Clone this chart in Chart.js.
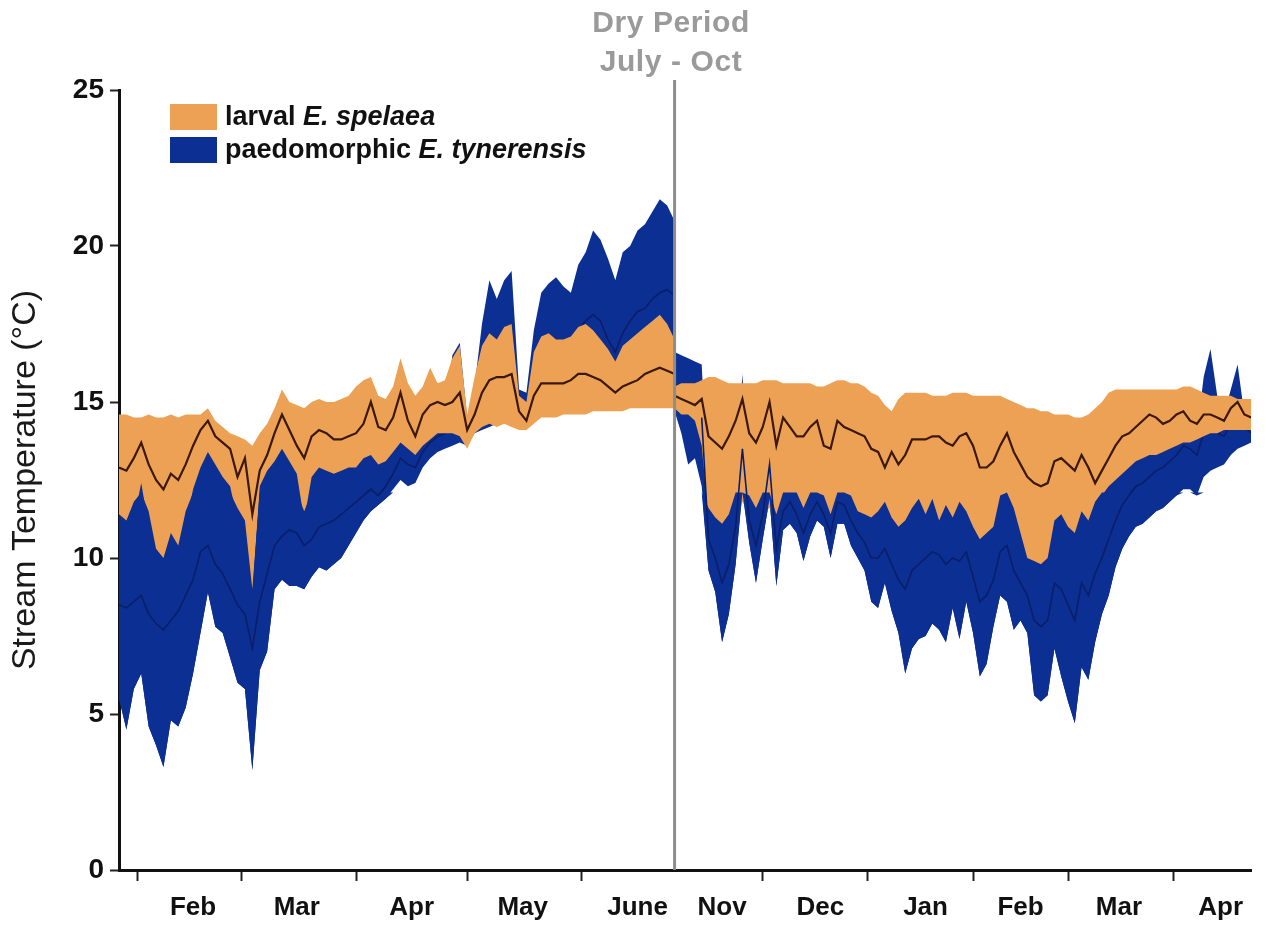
<!DOCTYPE html>
<html>
<head>
<meta charset="utf-8">
<script src="https://cdn.jsdelivr.net/npm/chart.js@4/dist/chart.umd.min.js"></script>
<style>
  html, body { margin: 0; padding: 0; background: #fff; }
  #wrap { position: relative; width: 1266px; height: 930px; font-family: "Liberation Sans", Arial, sans-serif; }
  #wrap canvas { position: absolute; left: 0; top: 0; }
  .dry { position: absolute; left: 561px; top: 2px; width: 220px; text-align: center; color: #9a9a9a;
         font-weight: bold; font-size: 30px; letter-spacing: 0.6px; line-height: 39px; }
  .legend { position: absolute; left: 170px; top: 100px; font-weight: bold; font-size: 27px; color: #111; }
  .legend .row { height: 33px; display: flex; align-items: center; white-space: nowrap; }
  .legend .sw { display: inline-block; width: 47px; height: 26px; margin-right: 8px; }
</style>
</head>
<body>
<div id="wrap">
  <canvas id="c" width="1266" height="930"></canvas>
  <div class="dry">Dry Period<br>July - Oct</div>
  <div class="legend">
    <div class="row"><span class="sw" style="background:#eda155"></span>larval&nbsp;<i>E. spelaea</i></div>
    <div class="row"><span class="sw" style="background:#0b2f93"></span>paedomorphic&nbsp;<i>E. tynerensis</i></div>
  </div>
</div>
<script>
// ---- Spring season (late January to late June), day of year, every 2 days ----
const springDays = [27,29,31,33,35,37,39,41,43,45,47,49,51,53,55,57,59,61,63,65,67,69,71,73,75,77,79,81,83,85,87,89,91,93,95,97,99,101,103,105,107,109,111,113,115,117,119,121,123,125,127,129,131,133,135,137,139,141,143,145,147,149,151,153,155,157,159,161,163,165,167,169,171,173,175,177];

// larval E. spelaea streams (°C): daily maximum, mean, minimum
const springSpelaeaMax = [14.6,14.6,14.5,14.5,14.6,14.5,14.5,14.6,14.5,14.6,14.6,14.6,14.8,14.4,14.2,14.0,13.9,13.8,13.6,14.0,14.3,14.8,15.4,15.0,14.9,14.8,15.0,15.1,15.0,15.0,15.1,15.2,15.5,15.7,15.8,15.2,15.1,15.5,16.4,15.6,15.2,15.5,16.1,15.6,15.7,16.4,16.8,14.6,15.8,16.8,17.2,17.0,17.4,17.5,15.2,15.0,16.6,17.1,17.2,17.0,17.0,17.1,17.4,17.5,17.3,17.0,16.7,16.3,16.8,17.0,17.2,17.4,17.6,17.8,17.5,17.0];
const springSpelaeaMean = [12.9,12.8,13.2,13.7,13.0,12.5,12.2,12.7,12.5,13.0,13.6,14.1,14.4,13.9,13.7,13.5,12.6,13.2,11.4,12.8,13.3,14.0,14.6,14.1,13.6,13.2,13.9,14.1,14.0,13.8,13.8,13.9,14.0,14.3,15.0,14.2,14.1,14.5,15.3,14.4,13.9,14.6,14.9,15.0,14.9,15.0,15.3,14.1,14.6,15.3,15.7,15.8,15.8,15.9,14.7,14.4,15.2,15.6,15.6,15.6,15.6,15.7,15.9,15.9,15.8,15.7,15.5,15.3,15.5,15.6,15.7,15.9,16.0,16.1,16.0,15.9];
const springSpelaeaMin = [11.0,10.8,11.2,12.4,11.0,10.0,9.7,10.4,10.2,11.0,12.2,12.9,13.4,13.0,12.6,12.3,11.2,10.5,8.9,12.3,12.8,13.1,13.5,13.1,12.7,11.2,12.6,12.9,12.8,12.7,12.8,12.9,12.9,13.2,13.3,13.0,13.1,13.4,13.7,13.5,13.3,13.6,13.8,14.0,14.0,14.0,13.9,13.5,14.0,14.2,14.3,14.2,14.3,14.2,14.1,14.1,14.3,14.5,14.5,14.5,14.6,14.6,14.6,14.6,14.7,14.7,14.7,14.7,14.7,14.8,14.8,14.8,14.8,14.8,14.8,14.8];

// paedomorphic E. tynerensis streams (°C): daily maximum, mean, minimum
const springTynerensisMax = [11.4,11.2,11.8,12.6,11.5,10.3,10.0,10.8,10.4,11.5,12.4,13.2,13.7,13.3,12.9,12.6,11.6,11.2,9.0,12.6,13.1,13.4,13.8,13.4,13.0,11.5,13.0,13.3,13.2,13.1,13.2,13.3,13.3,13.7,13.8,13.4,13.5,13.8,14.5,14.0,13.6,14.0,14.3,14.4,14.5,16.5,16.9,14.5,15.5,17.5,18.9,18.3,18.9,19.2,15.4,15.3,17.3,18.5,18.8,19.0,18.7,18.5,19.4,19.8,20.5,20.2,19.6,18.9,19.8,20.0,20.5,20.7,21.1,21.5,21.3,20.8];
const springTynerensisMean = [8.5,8.4,8.6,8.8,8.2,7.9,7.7,8.0,8.3,8.8,9.3,10.2,10.4,9.8,9.5,9.0,8.5,8.2,7.1,8.6,9.5,10.4,10.7,10.9,10.8,10.4,10.6,11.0,11.1,11.2,11.4,11.6,11.8,12.0,12.2,12.0,12.3,12.7,13.2,13.0,12.9,13.4,13.7,13.9,14.0,14.6,15.0,14.0,14.6,15.6,16.3,16.2,16.5,16.8,14.8,14.7,15.8,16.8,17.0,17.0,16.9,16.9,17.3,17.6,17.8,17.6,17.0,16.6,17.2,17.6,17.9,18.0,18.3,18.5,18.6,18.4];
const springTynerensisMin = [5.5,4.5,5.8,6.3,4.6,4.0,3.3,4.8,4.6,5.2,6.3,7.6,8.9,7.8,7.6,6.8,6.0,5.8,3.2,6.4,7.0,9.0,9.3,9.1,9.1,9.0,9.4,9.7,9.6,9.8,10.0,10.4,10.8,11.2,11.5,11.7,11.9,12.2,12.5,12.3,12.4,12.9,13.2,13.4,13.5,13.6,13.7,13.6,14.0,14.1,14.2,14.3,14.3,14.3,14.2,14.3,14.5,14.6,14.8,14.9,15.0,15.0,15.1,15.1,15.2,15.2,15.1,15.0,15.1,15.3,15.4,15.4,15.5,15.5,15.5,15.4];

// ---- Autumn to spring (November to late April), day count from 1 Jan, every 2 days ----
const autumnDays = [309,311,313,315,317,319,321,323,325,327,329,331,333,335,337,339,341,343,345,347,349,351,353,355,357,359,361,363,365,367,369,371,373,375,377,379,381,383,385,387,389,391,393,395,397,399,401,403,405,407,409,411,413,415,417,419,421,423,425,427,429,431,433,435,437,439,441,443,445,447,449,451,453,455,457,459,461,463,465,467,469,471,473,475,477,479];

const autumnSpelaeaMax = [15.5,15.6,15.6,15.6,15.7,15.8,15.8,15.7,15.6,15.6,15.6,15.6,15.6,15.7,15.7,15.7,15.6,15.6,15.6,15.6,15.6,15.5,15.5,15.6,15.7,15.7,15.6,15.6,15.5,15.3,15.2,14.9,14.7,15.1,15.3,15.3,15.3,15.3,15.2,15.2,15.2,15.3,15.3,15.3,15.2,15.2,15.2,15.2,15.2,15.1,15.0,14.9,14.8,14.8,14.7,14.7,14.6,14.6,14.6,14.5,14.5,14.6,14.8,15.0,15.3,15.4,15.4,15.4,15.4,15.4,15.4,15.4,15.4,15.4,15.4,15.5,15.5,15.4,15.3,15.2,15.2,15.2,15.2,15.1,15.1,15.1];
const autumnSpelaeaMean = [15.2,15.1,15.0,14.9,15.1,13.9,13.7,13.5,13.9,14.4,15.1,14.0,13.7,14.2,15.0,13.6,14.5,14.2,13.9,13.9,14.2,14.4,13.6,13.5,14.4,14.2,14.1,14.0,13.9,13.5,13.4,12.9,13.4,13.0,13.3,13.8,13.8,13.8,13.9,13.9,13.7,13.6,13.9,14.0,13.6,12.9,12.9,13.1,13.6,14.0,13.4,13.0,12.6,12.4,12.3,12.4,13.1,13.2,13.0,12.8,13.3,12.9,12.4,12.8,13.2,13.6,13.9,14.0,14.2,14.4,14.6,14.5,14.3,14.4,14.6,14.7,14.4,14.3,14.6,14.6,14.5,14.4,14.8,15.0,14.6,14.5];
const autumnSpelaeaMin = [14.8,14.6,14.6,14.4,13.6,11.2,11.0,10.8,10.8,11.0,11.8,11.4,11.2,11.4,11.6,11.2,11.3,11.4,11.5,11.5,11.7,12.0,11.8,11.2,11.8,11.8,11.5,11.3,11.3,10.9,11.1,11.4,10.9,10.6,10.8,11.2,11.4,11.0,11.4,10.8,11.2,10.9,11.3,11.0,10.8,10.5,10.5,10.6,11.2,11.5,11.0,10.4,9.8,9.8,9.8,9.9,10.6,10.8,10.6,10.6,10.8,10.8,11.5,12.0,12.3,12.5,12.7,12.9,13.1,13.2,13.3,13.3,13.4,13.5,13.6,13.7,13.7,13.8,13.9,14.0,14.0,14.1,14.1,14.1,14.1,14.1];

const autumnTynerensisMax = [16.6,16.5,16.4,16.3,16.2,11.6,11.3,11.1,11.4,12.5,15.9,12.0,11.6,12.5,15.0,11.4,12.4,12.8,12.2,11.6,12.4,12.8,12.0,11.4,12.6,12.6,12.0,11.5,11.4,11.3,11.5,11.8,11.3,11.0,11.2,11.6,11.9,11.4,11.9,11.2,11.7,11.3,11.8,11.5,11.0,10.6,10.8,11.0,12.0,12.6,11.6,10.8,10.0,9.9,9.8,10.0,11.2,11.4,11.0,10.8,11.5,11.2,11.8,12.2,12.5,12.8,13.0,13.2,13.4,13.5,13.8,13.9,13.9,14.0,14.2,15.4,14.2,14.0,15.8,16.7,15.2,14.6,15.4,16.2,14.6,14.2];
const autumnTynerensisMean = [15.6,15.3,15.0,14.8,14.5,10.6,10.0,9.2,9.8,11.0,13.5,11.2,10.4,11.4,13.0,10.3,11.5,11.8,11.4,10.8,11.4,11.8,11.4,10.8,11.8,11.7,11.2,10.8,10.5,10.0,10.0,10.3,9.8,9.3,9.0,9.6,9.8,10.0,10.2,10.1,9.8,10.0,9.9,10.2,9.4,8.6,8.8,9.3,10.2,10.4,9.6,9.2,8.8,8.0,7.8,8.0,9.2,9.0,8.5,8.0,9.2,8.8,9.5,10.0,10.6,11.2,11.7,12.0,12.3,12.4,12.6,12.8,12.9,13.1,13.3,13.6,13.5,13.3,14.0,14.3,14.0,13.9,14.3,14.6,14.2,14.0];
const autumnTynerensisMin = [14.7,14.0,13.0,13.2,12.3,9.6,8.9,7.3,8.2,9.8,12.2,10.5,9.2,10.6,11.9,9.1,10.9,11.1,10.8,9.9,10.7,11.2,11.0,10.0,11.1,11.1,10.4,10.0,9.6,8.6,8.4,9.2,8.3,7.6,6.3,7.1,7.4,7.5,7.9,7.7,7.3,8.4,7.4,8.6,7.6,6.2,6.6,7.8,8.8,8.6,7.7,8.0,7.6,5.6,5.4,5.6,7.1,6.2,5.4,4.7,6.5,6.1,7.3,8.2,8.8,9.7,10.3,10.7,11.0,11.1,11.3,11.5,11.6,11.8,12.0,12.2,12.2,12.0,12.6,12.8,12.9,13.0,13.3,13.5,13.6,13.7];

// ---- Axis ticks: month boundaries carry a tick mark, mid-month positions carry the name ----
const springMonthStarts = [32, 60, 91, 121, 152];
const springMonthLabels = ['Feb', 'Mar', 'Apr', 'May', 'June'];
const springLabelDays   = [47, 75, 106, 136, 167];
const autumnMonthStarts = [335, 366, 397, 425, 456];
const autumnMonthLabels = ['Nov', 'Dec', 'Jan', 'Feb', 'Mar', 'Apr'];
const autumnLabelDays   = [323, 352, 383, 411, 440, 470];
const tempTicks = [0, 5, 10, 15, 20, 25];

// Below this temperature the tynerensis band is painted over the spelaea band,
// above it the spelaea band stays on top.
const overlapSplit = 12.1;

const FONT = '"Liberation Sans", Arial, sans-serif';
const ORANGE = '#eda155';
const BLUE = '#0b2f93';
const BLUE_LINE = '#0a1f68';
const BROWN_LINE = '#3b1808';

const pts = (days, vals) => days.map((d, i) => ({ x: d, y: vals[i] }));
const capped = vals => vals.map(v => Math.min(v, overlapSplit));

function band(axis, days, lo, hi, color, order) {
  return [
    { xAxisID: axis, data: pts(days, lo), borderWidth: 0, pointRadius: 0, fill: false, order },
    { xAxisID: axis, data: pts(days, hi), borderWidth: 0, pointRadius: 0, fill: '-1',
      backgroundColor: color, order }
  ];
}
function meanLine(axis, days, vals, color, width, order, segment) {
  const ds = { xAxisID: axis, data: pts(days, vals), borderColor: color, borderWidth: width,
               pointRadius: 0, fill: false, tension: 0, order };
  if (segment) ds.segment = segment;
  return ds;
}
const hideAboveSplit = {
  borderColor: c => (c.p0.parsed.y > overlapSplit && c.p1.parsed.y > overlapSplit) ? 'rgba(0,0,0,0)' : BLUE_LINE
};

function seasonSets(axis, days, sMin, sMean, sMax, tMin, tMean, tMax) {
  return [
    ...band(axis, days, tMin, tMax, BLUE, 7),
    meanLine(axis, days, tMean, BLUE_LINE, 1.6, 6),
    ...band(axis, days, sMin, sMax, ORANGE, 5),
    ...band(axis, days, capped(tMin), capped(tMax), BLUE, 4),
    meanLine(axis, days, tMean, BLUE_LINE, 1.6, 3, hideAboveSplit),
    meanLine(axis, days, sMean, BROWN_LINE, 2.2, 2)
  ];
}

const datasets = [
  ...seasonSets('xL', springDays, springSpelaeaMin, springSpelaeaMean, springSpelaeaMax,
                springTynerensisMin, springTynerensisMean, springTynerensisMax),
  ...seasonSets('xR', autumnDays, autumnSpelaeaMin, autumnSpelaeaMean, autumnSpelaeaMax,
                autumnTynerensisMin, autumnTynerensisMean, autumnTynerensisMax)
];

function monthAxis(starts, names, labelDays, min, max, weight) {
  return {
    type: 'linear', position: 'bottom', stack: 'months', stackWeight: weight,
    min, max, offset: false,
    afterBuildTicks: s => {
      s.ticks = starts.concat(labelDays).sort((a, b) => a - b).map(v => ({ value: v }));
    },
    afterFit: s => { s.height = 60; },
    ticks: {
      autoSkip: false, maxRotation: 0, padding: 4, color: '#111',
      font: { family: FONT, size: 26, weight: 'bold', lineHeight: 1.74 },
      callback: v => { const k = labelDays.indexOf(v); return k >= 0 ? names[k] : ''; }
    },
    grid: {
      drawOnChartArea: false, drawTicks: true, tickLength: 11, tickWidth: 2,
      tickColor: c => (c.tick && starts.includes(c.tick.value)) ? '#222' : 'rgba(0,0,0,0)'
    },
    border: { display: true, color: '#111', width: 3 }
  };
}

// vertical marker separating the two recording seasons
const seasonGap = {
  id: 'seasonGap',
  afterDatasetsDraw(chart) {
    const { ctx, chartArea } = chart;
    const x = chart.scales.xR.left;
    ctx.save();
    ctx.strokeStyle = '#8d8d8d';
    ctx.lineWidth = 3;
    ctx.beginPath();
    ctx.moveTo(x, chartArea.top - 10);
    ctx.lineTo(x, chartArea.bottom);
    ctx.stroke();
    ctx.restore();
  }
};

new Chart(document.getElementById('c'), {
  type: 'line',
  data: { datasets },
  plugins: [seasonGap],
  options: {
    responsive: false,
    animation: false,
    events: [],
    layout: { padding: { top: 90, right: 14, bottom: 0, left: 0 } },
    plugins: { legend: { display: false }, tooltip: { enabled: false } },
    scales: {
      xL: monthAxis(springMonthStarts, springMonthLabels, springLabelDays, 27, 177, 556),
      xR: monthAxis(autumnMonthStarts, autumnMonthLabels, autumnLabelDays, 309, 479, 577),
      y: {
        type: 'linear', position: 'left', min: 0, max: 25,
        afterBuildTicks: s => { s.ticks = tempTicks.map(v => ({ value: v })); },
        afterFit: s => { s.width = 119; },
        ticks: { color: '#111', padding: 6, font: { family: FONT, size: 28, weight: 'bold' } },
        grid: { drawOnChartArea: false, tickLength: 9, tickWidth: 2, tickColor: '#222' },
        border: { display: true, color: '#111', width: 3 },
        title: {
          display: true, text: 'Stream Temperature (°C)', color: '#1a1a1a',
          font: { family: FONT, size: 34 }, padding: { top: 5, bottom: 0 }
        }
      }
    }
  }
});
</script>
</body>
</html>
